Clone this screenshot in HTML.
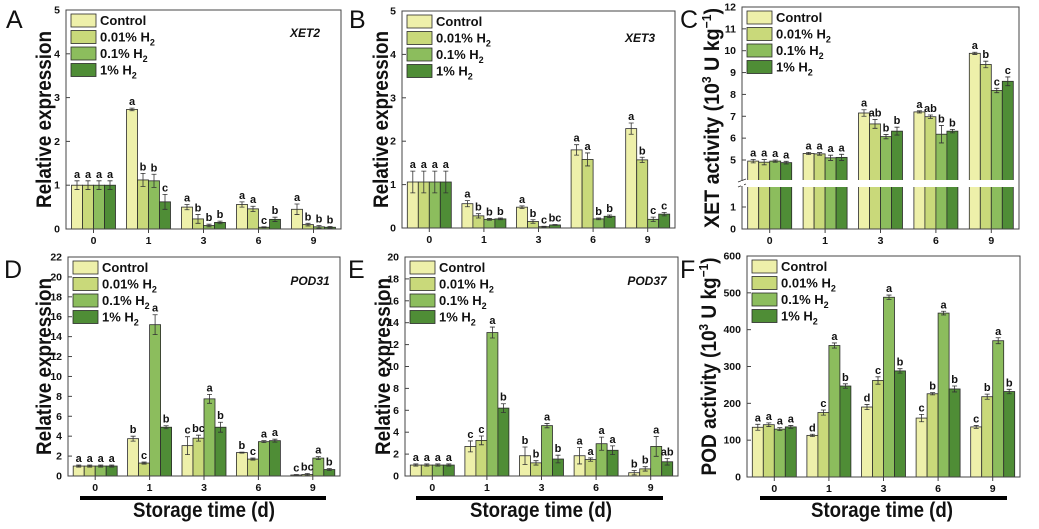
<!DOCTYPE html>
<html><head><meta charset="utf-8">
<style>
html,body{margin:0;padding:0;background:#fff;}
svg{display:block;font-family:"Liberation Sans",Arial,sans-serif;}
</style></head>
<body>
<svg id="fig" width="1039" height="529" viewBox="0 0 1039 529" xmlns="http://www.w3.org/2000/svg"></svg>
<script>
const categories = ["0","1","3","6","9"];
const seriesNames = ["Control","0.01% H","0.1% H","1% H"];
const colors = ["#eef0aa","#c9d97a","#8cbd5d","#4f8d36"];

const aVals = [[1,2.73,0.5,0.56,0.45],[1,1.12,0.23,0.46,0.1],[1,1.1,0.08,0.04,0.05],[1,0.62,0.15,0.22,0.04]];
const aErr  = [[0.1,0.03,0.06,0.06,0.12],[0.1,0.15,0.1,0.06,0.03],[0.1,0.15,0.03,0.01,0.03],[0.1,0.17,0.03,0.05,0.02]];
const aLet  = [["a","a","a","a","a"],["a","b","b","a","b"],["a","b","b","c","b"],["a","c","b","b","b"]];
const aTicks = [0,1,2,3,4,5];

const bVals = [[1.06,0.56,0.48,1.8,2.29],[1.06,0.28,0.15,1.58,1.57],[1.06,0.2,0.03,0.21,0.2],[1.06,0.21,0.07,0.27,0.32]];
const bErr  = [[0.25,0.07,0.03,0.12,0.13],[0.25,0.05,0.04,0.15,0.06],[0.25,0.02,0.01,0.02,0.05],[0.25,0.02,0.01,0.03,0.04]];
const bLet  = [["a","a","a","a","a"],["a","b","b","a","b"],["a","b","c","b","c"],["a","b","bc","b","c"]];
const bTicks = [0,1,2,3,4,5];

const cVals = [[4.95,5.3,7.15,7.2,9.88],[4.9,5.28,6.65,6.98,9.37],[4.95,5.1,6.07,6.18,8.18],[4.88,5.12,6.32,6.32,8.6]];
const cErr  = [[0.08,0.05,0.15,0.05,0.05],[0.12,0.06,0.2,0.08,0.15],[0.05,0.12,0.1,0.4,0.1],[0.06,0.14,0.18,0.08,0.2]];
const cLet  = [["a","a","a","a","a"],["a","a","ab","ab","b"],["a","a","b","b","c"],["a","a","b","b","c"]];
const cTicks = [0,1,5,6,7,8,9,10,11,12];

const dVals = [[1,3.75,3.05,2.35,0.1],[1,1.3,3.8,1.7,0.15],[1,15.2,7.75,3.45,1.8],[1,4.9,4.9,3.55,0.65]];
const dErr  = [[0.1,0.25,0.9,0.05,0.05],[0.1,0.1,0.3,0.1,0.1],[0.1,1.0,0.45,0.1,0.15],[0.1,0.15,0.5,0.15,0.1]];
const dLet  = [["a","b","c","b","c"],["a","c","bc","c","bc"],["a","a","a","a","a"],["a","b","b","a","b"]];
const dTicks = [0,2,4,6,8,10,12,14,16,18,20,22];

const eVals = [[1,2.7,1.85,1.85,0.3],[1,3.25,1.2,1.5,0.65],[1,13.1,4.6,2.95,2.7],[1,6.2,1.55,2.35,1.3]];
const eErr  = [[0.1,0.5,0.8,0.75,0.2],[0.1,0.4,0.2,0.15,0.2],[0.1,0.5,0.2,0.6,0.9],[0.1,0.4,0.35,0.4,0.3]];
const eLet  = [["a","c","b","a","b"],["a","c","b","a","b"],["a","a","a","a","a"],["a","b","b","a","ab"]];
const eTicks = [0,2,4,6,8,10,12,14,16,18,20];

const fVals = [[135,113,190,160,136],[142,175,262,226,218],[130,357,488,445,370],[136,247,288,239,232]];
const fErr  = [[8,3,7,10,4],[5,7,10,3,7],[4,7,6,5,8],[4,6,6,8,6]];
const fLet  = [["a","d","d","c","c"],["a","c","c","b","b"],["a","a","a","a","a"],["a","b","b","b","b"]];
const fTicks = [0,100,200,300,400,500,600];

const NS = "http://www.w3.org/2000/svg";
const svg = document.getElementById("fig");
function mk(tag, attrs, parent, text){
  const e = document.createElementNS(NS, tag);
  for (const k in attrs) e.setAttribute(k, attrs[k]);
  if (text !== undefined) e.textContent = text;
  (parent||svg).appendChild(e);
  return e;
}

function linScale(vmax, top, bottom){ return v => bottom - (bottom-top)*v/vmax; }
function breakScale(v){ return v <= 2 ? 229 - 22*v : 160 - 21.86*(v-5); }

const panels = [
 {key:"a", letter:"A", lx:6, ly:28, x0:66, x1:341, y0:10, y1:229, vals:aVals, err:aErr, lets:aLet, ticks:aTicks, scale:linScale(5,10,229), gene:"XET2", gx:305, gy:37, ytitle:"Relative expression", tcx:43, tlen:177},
 {key:"b", letter:"B", lx:349, ly:28, x0:402, x1:675, y0:11, y1:228, vals:bVals, err:bErr, lets:bLet, ticks:bTicks, scale:linScale(5,11,228), gene:"XET3", gx:640, gy:42, ytitle:"Relative expression", tcx:380, tlen:177},
 {key:"c", letter:"C", lx:680, ly:28, x0:742, x1:1019, y0:7, y1:229, vals:cVals, err:cErr, lets:cLet, ticks:cTicks, scale:breakScale, gene:"", ytitle:"XET activity (10", tcx:711, tlen:220, brk:true},
 {key:"d", letter:"D", lx:4, ly:278, x0:68, x1:340, y0:257, y1:476, vals:dVals, err:dErr, lets:dLet, ticks:dTicks, scale:linScale(22,257,476), gene:"POD31", gx:310, gy:285, ytitle:"Relative expression", tcx:43, tlen:177, bar:[80,326], stx:204},
 {key:"e", letter:"E", lx:348, ly:278, x0:405, x1:678, y0:257, y1:476, vals:eVals, err:eErr, lets:eLet, ticks:eTicks, scale:linScale(20,257,476), gene:"POD37", gx:647, gy:285, ytitle:"Relative expression", tcx:382, tlen:177, bar:[416,663], stx:541},
 {key:"f", letter:"F", lx:680, ly:278, x0:747, x1:1020, y0:256, y1:477, vals:fVals, err:fErr, lets:fLet, ticks:fTicks, scale:linScale(600,256,477), gene:"", ytitle:"POD activity (10", tcx:708, tlen:218, bar:[760,1007], stx:882}
];

panels.forEach(p => {
  const g = mk("g", {});
  
  
  const bandW = (p.x1 - p.x0) / categories.length;
  const barW = 11;
  const xc = i => p.x0 + bandW*(i+0.5);
  const pl = mk("text", {x:p.lx, y:p.ly, "font-size":25, fill:"#111"}, g, p.letter);
  
  
  for (let s=0; s<4; s++){
    for (let i=0; i<categories.length; i++){
      const v = p.vals[s][i], e = p.err[s][i];
      const bx = xc(i) - 2*barW + s*barW;
      const yv = p.scale(v);
      const r = mk("rect", {x:bx, y:yv, width:barW, height:p.y1-yv, fill:colors[s], stroke:"#2a2a2a", "stroke-width":0.8}, g);
      
      
      const yt = p.scale(v+e), yb = p.scale(Math.max(v-e,0));
      const cx = bx + barW/2;
      const eb = mk("path", {d:`M${cx},${yt}V${yb}M${cx-2.5},${yt}H${cx+2.5}M${cx-2.5},${yb}H${cx+2.5}`, stroke:"#333", "stroke-width":0.8, fill:"none"}, g);
      
      
      const lt = mk("text", {x:cx, y:yt-3, "font-size":11, "font-weight":"bold", "text-anchor":"middle", fill:"#111"}, g, p.lets[s][i]);
      
      
    }
  }
  if (p.brk){
    const wb = mk("rect", {x:p.x0-4, y:180, width:p.x1-p.x0+2, height:7, fill:"#fff"}, g);
    
    
    mk("path", {d:`M${p.x0-4},182l8,-3M${p.x0-4},187l8,-3`, stroke:"#333", "stroke-width":0.8}, g);
  }
  const fr = mk("rect", {x:p.x0, y:p.y0, width:p.x1-p.x0, height:p.y1-p.y0, fill:"none", stroke:"#444", "stroke-width":1}, g);
  
  
  if (p.brk){ mk("rect", {x:p.x0-1, y:181, width:3, height:5, fill:"#fff"}, g); }
  p.ticks.forEach(t => {
    const y = p.scale(t);
    mk("path", {d:`M${p.x0},${y}h4`, stroke:"#444", "stroke-width":1}, g);
    const tl = mk("text", {x:p.x0-6, y:y+3.5, "font-size":10.5, "font-weight":"bold", "text-anchor":"end", fill:"#111"}, g, String(t));
    
    
  });
  categories.forEach((c,i) => {
    mk("path", {d:`M${xc(i)},${p.y1}v4`, stroke:"#444", "stroke-width":1}, g);
    const xl = mk("text", {x:xc(i), y:p.y1+15, "font-size":10.5, "font-weight":"bold", "text-anchor":"middle", fill:"#111"}, g, c);
    
    
  });
  const lg = mk("g", {}, g);
  
  
  seriesNames.forEach((n,s) => {
    const ly = p.y0 + 4 + s*16.5;
    const lx = p.x0 + 5;
    mk("rect", {x:lx, y:ly, width:25, height:13, fill:colors[s], stroke:"#2a2a2a", "stroke-width":0.8}, lg);
    const t = mk("text", {x:lx+29, y:ly+11, "font-size":13, "font-weight":"bold", fill:"#111"}, lg, n);
    
    
    if (s>0) mk("tspan", {"font-size":9, dy:4}, t, "2");
  });
  if (p.gene){
    const gn = mk("text", {x:p.gx, y:p.gy, "font-size":12, "font-weight":"bold", "font-style":"italic", "text-anchor":"middle", fill:"#111"}, g, p.gene);
    
    
  }
  const cy = (p.y0+p.y1)/2;
  const yt = mk("text", {x:0, y:0, transform:`translate(${p.tcx+8},${cy}) rotate(-90)`, "font-size":21, "font-weight":"bold", "text-anchor":"middle", fill:"#111", textLength:p.tlen, lengthAdjust:"spacingAndGlyphs"}, g, p.ytitle);
  
  
  if (p.ytitle.indexOf("(10")>=0){
    mk("tspan", {"font-size":13, dy:-8}, yt, "3");
    mk("tspan", {dy:8}, yt, " U kg");
    mk("tspan", {"font-size":13, dy:-8}, yt, "−1");
    mk("tspan", {dy:8}, yt, ")");
  }
  if (p.bar){
    const sb = mk("rect", {x:p.bar[0], y:496, width:p.bar[1]-p.bar[0], height:4, fill:"#000"}, g);
    
    
    const st = mk("text", {x:p.stx, y:517, "font-size":21, "font-weight":"bold", "text-anchor":"middle", fill:"#111", textLength:142, lengthAdjust:"spacingAndGlyphs"}, g, "Storage time (d)");
    
    
  }
});
</script>
</body></html>
